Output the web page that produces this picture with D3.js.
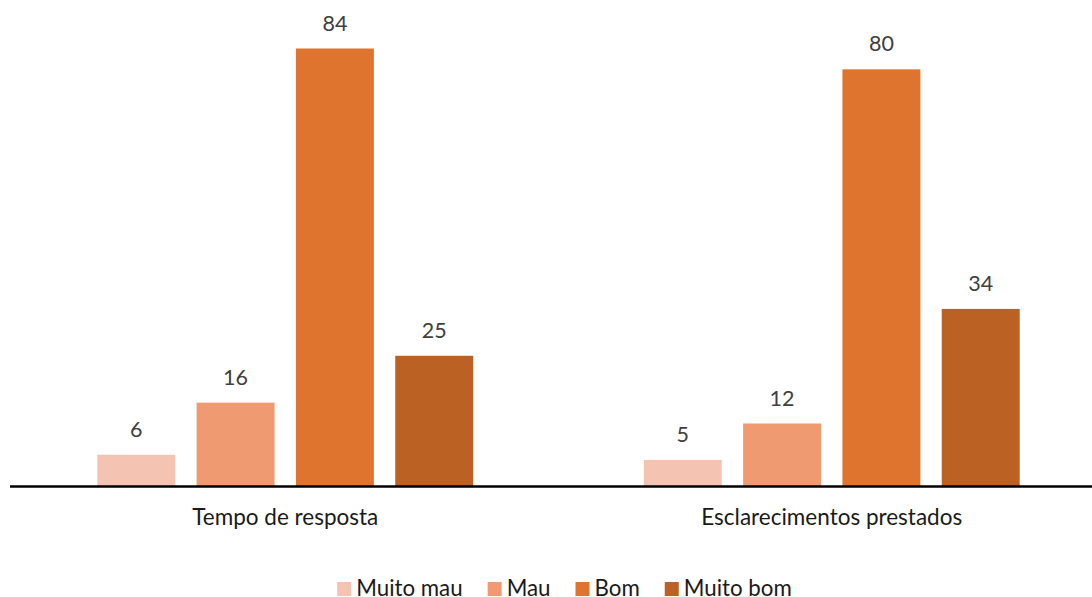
<!DOCTYPE html>
<html>
<head>
<meta charset="utf-8">
<script src="https://cdn.jsdelivr.net/npm/d3@7"></script>
<style>
  html, body { margin: 0; padding: 0; background: #fff; }
  svg { display: block; }
  text { font-family: Lato, "Open Sans", sans-serif; }
</style>
</head>
<body>
<svg id="chart" width="1092" height="597"></svg>
<script>
// Survey ratings per topic
const categories = ["Tempo de resposta", "Esclarecimentos prestados"];
const seriesNames = ["Muito mau", "Mau", "Bom", "Muito bom"];
const seriesColors = ["#F5C3B1", "#F09A71", "#DF742E", "#BB6124"];
const muitoMau = [6, 5];
const mau = [16, 12];
const bom = [84, 80];
const muitoBom = [25, 34];
const seriesValues = [muitoMau, mau, bom, muitoBom];

const svg = d3.select("#chart");
const baseY = 486;

const x0 = d3.scaleBand().domain(categories).range([12, 1105]).paddingInner(0).paddingOuter(0);
const x1 = d3.scaleBand().domain(seriesNames).range([0, x0.bandwidth()])
  .paddingInner(0.215).paddingOuter(0.859);
const y = d3.scaleLinear().domain([0, 84]).range([baseY, 48.5]);

const rows = [];
categories.forEach((c, ci) => {
  seriesNames.forEach((s, si) => {
    rows.push({ cat: c, series: s, color: seriesColors[si], value: seriesValues[si][ci] });
  });
});

const g = svg.append("g");
g.selectAll("rect.bar").data(rows).join("rect")
  .attr("class", "bar")
  .attr("x", d => x0(d.cat) + x1(d.series))
  .attr("width", x1.bandwidth())
  .attr("y", d => y(d.value))
  .attr("height", d => baseY - y(d.value))
  .attr("fill", d => d.color);

g.selectAll("text.val").data(rows).join("text")
  .attr("class", "val")
  .attr("x", d => x0(d.cat) + x1(d.series) + x1.bandwidth() / 2)
  .attr("y", d => y(d.value) - 18)
  .attr("text-anchor", "middle")
  .attr("font-size", 21.5)
  .attr("fill", "#404040")
  .text(d => d.value);

// category axis
const axis = d3.axisBottom(x0).tickSize(0).tickPadding(0);
const ax = svg.append("g").attr("transform", `translate(0,${baseY})`).call(axis);
ax.select(".domain").remove();
ax.selectAll("text").attr("dy", null).attr("y", 39).attr("font-size", 22.5).attr("fill", "#1a1a1a")
  .style("font-family", "Lato, 'Open Sans', sans-serif");
svg.append("line")
  .attr("x1", 10).attr("x2", 1092)
  .attr("y1", baseY + 0.5).attr("y2", baseY + 0.5)
  .attr("stroke", "#000").attr("stroke-width", 2.7);

// legend
const legend = svg.append("g");
const items = legend.selectAll("g").data(seriesNames).join("g");
items.append("rect").attr("width", 14).attr("height", 14).attr("y", -7)
  .attr("fill", (d, i) => seriesColors[i]);
items.append("text").attr("x", 19).attr("y", 6.5)
  .attr("font-size", 22.3).attr("fill", "#1a1a1a").text(d => d);
let cx = 0;
const offs = [];
items.each(function () {
  offs.push(cx);
  const w = d3.select(this).select("text").node().getComputedTextLength();
  cx += 19 + w + 25;
});
const total = cx - 25;
const startX = 564.5 - total / 2;
items.attr("transform", (d, i) => `translate(${startX + offs[i]},589)`);
</script>
</body>
</html>
